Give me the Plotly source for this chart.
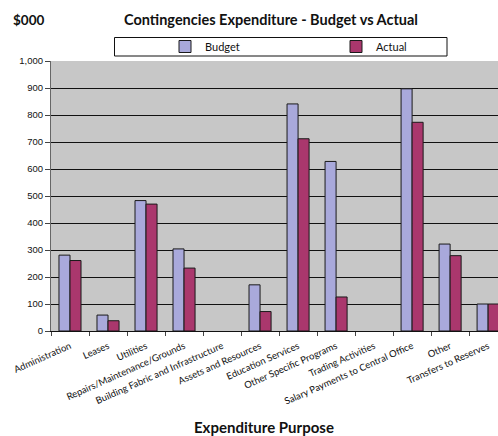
import plotly.graph_objects as go

categories = [
    "Administration", "Leases", "Utilities", "Repairs/Maintenance/Grounds",
    "Building Fabric and Infrastructure", "Assets and Resources",
    "Education Services", "Other Specific Programs", "Trading Activities",
    "Salary Payments to Central Office", "Other", "Transfers to Reserves",
]
budget = [281, 59, 483, 304, 0, 171, 841, 628, 0, 897, 322, 100]
actual = [261, 38, 470, 233, 0, 72, 712, 126, 0, 773, 279, 100]
y_ticks = [0, 100, 200, 300, 400, 500, 600, 700, 800, 900, 1000]

BUDGET_COLOR = "#A9A9DB"
ACTUAL_COLOR = "#AA376D"
FONT = "Lato"


def outline_widths(values):
    # no outline on empty bars, so a zero value leaves no stray line
    return [1 if v else 0 for v in values]


fig = go.Figure()
fig.add_trace(go.Bar(
    name="Budget", x=categories, y=budget,
    marker=dict(color=BUDGET_COLOR,
                line=dict(color="#1a1a1a", width=outline_widths(budget))),
))
fig.add_trace(go.Bar(
    name="Actual", x=categories, y=actual,
    marker=dict(color=ACTUAL_COLOR,
                line=dict(color="#1a1a1a", width=outline_widths(actual))),
))

W, H = 498, 436
L, R, T, B = 51, 0, 61, 105
pw = W - L - R
ph = H - T - B


def px_x(x):
    return (x - L) / pw


def px_y(y):
    return (H - B - y) / ph


fig.update_layout(
    width=W, height=H,
    margin=dict(l=L, r=R, t=T, b=B, pad=0, autoexpand=False),
    paper_bgcolor="white",
    plot_bgcolor="#C7C7C7",
    barmode="group",
    bargap=0.42,
    bargroupgap=0,
    showlegend=True,
    legend=dict(
        orientation="h",
        x=px_x(165), xanchor="left",
        y=px_y(46.5), yanchor="middle",
        bgcolor="rgba(0,0,0,0)",
        font=dict(family=FONT, size=11, color="#111"),
        entrywidth=126, entrywidthmode="pixels",
        itemwidth=30,
        traceorder="normal",
    ),
    xaxis=dict(
        range=[-0.5, 11.26],
        tickson="boundaries",
        ticks="outside", ticklen=4, tickcolor="#444",
        tickangle=-24,
        ticklabelstandoff=5,
        tickfont=dict(family=FONT, size=9.5, color="#111"),
        showline=True, linecolor="#111", linewidth=1,
        showgrid=False,
        automargin=False,
    ),
    yaxis=dict(
        range=[0, 1000],
        tickvals=y_ticks,
        tickformat=",",
        ticks="outside", ticklen=5, tickcolor="#444",
        tickfont=dict(family="Liberation Sans", size=9.5, color="#111"),
        showline=True, linecolor="#666", linewidth=1,
        showgrid=True, gridcolor="#111", gridwidth=1,
        zeroline=False,
        automargin=False,
    ),
    shapes=[dict(
        type="rect", xref="paper", yref="paper",
        x0=px_x(114.5), x1=px_x(447), y0=px_y(56), y1=px_y(37.5),
        line=dict(color="#111", width=1), fillcolor="rgba(0,0,0,0)",
        layer="above",
    )],
    annotations=[
        dict(text="<b>$000</b>", xref="paper", yref="paper",
             x=px_x(11), y=px_y(20), xanchor="left", yanchor="middle",
             showarrow=False, font=dict(family=FONT, size=13.5, color="#111")),
        dict(text="<b>Contingencies Expenditure - Budget vs Actual</b>",
             xref="paper", yref="paper",
             x=px_x(271), y=px_y(20), xanchor="center", yanchor="middle",
             showarrow=False, font=dict(family=FONT, size=14.5, color="#111")),
        dict(text="<b>Expenditure Purpose</b>", xref="paper", yref="paper",
             x=px_x(264), y=px_y(427), xanchor="center", yanchor="middle",
             showarrow=False, font=dict(family=FONT, size=15, color="#111")),
    ],
)

fig.write_html("out.html")
